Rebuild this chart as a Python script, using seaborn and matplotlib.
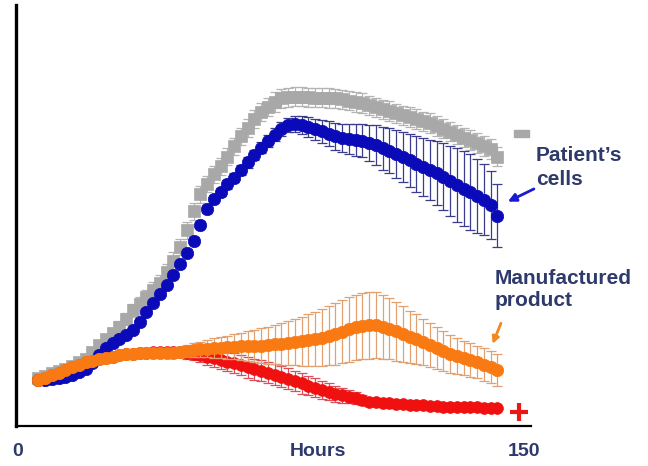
import matplotlib
matplotlib.use("Agg")
import matplotlib.pyplot as plt
import seaborn as sns
import pandas as pd
from matplotlib.patches import Rectangle

hours = [6, 8, 10, 12, 14, 16, 18, 20, 22, 24,
         26, 28, 30, 32, 34, 36, 38, 40, 42, 44,
         46, 48, 50, 52, 54, 56, 58, 60, 62, 64,
         66, 68, 70, 72, 74, 76, 78, 80, 82, 84,
         86, 88, 90, 92, 94, 96, 98, 100, 102, 104,
         106, 108, 110, 112, 114, 116, 118, 120, 122, 124,
         126, 128, 130, 132, 134, 136, 138, 140, 142]

gray_vals = [11.4, 11.9, 12.5, 13.0, 13.5, 14.3, 15.2, 16.0, 17.5, 19.2,
             20.6, 22.0, 23.6, 25.5, 27.5, 29.0, 30.6, 32.3, 34.0, 36.5,
             39.3, 42.5, 46.5, 51.0, 55.0, 57.5, 59.8, 61.7, 64.0, 66.4,
             68.8, 70.8, 72.9, 74.6, 75.8, 77.0, 77.8, 78.1, 78.2, 78.2,
             78.1, 78.0, 78.0, 77.9, 77.8, 77.6, 77.3, 77.0, 76.7, 76.2,
             75.7, 75.2, 74.8, 74.3, 73.8, 73.4, 72.9, 72.4, 72.0, 71.3,
             70.6, 69.9, 69.2, 68.5, 67.9, 67.2, 66.5, 65.8, 64.0]
gray_err = [0.5, 0.5, 0.5, 0.6, 0.6, 0.7, 0.7, 0.8, 0.9, 1.0,
            1.1, 1.2, 1.3, 1.4, 1.5, 1.6, 1.7, 1.8, 1.9, 2.0,
            2.0, 2.0, 2.0, 2.0, 2.0, 2.0, 2.0, 2.0, 2.0, 2.0,
            2.1, 2.1, 2.2, 2.2, 2.2, 2.3, 2.3, 2.3, 2.3, 2.3,
            2.3, 2.3, 2.3, 2.3, 2.3, 2.3, 2.3, 2.3, 2.3, 2.3,
            2.3, 2.3, 2.3, 2.3, 2.3, 2.3, 2.3, 2.3, 2.3, 2.3,
            2.3, 2.3, 2.3, 2.3, 2.3, 2.3, 2.3, 2.3, 2.3]

blue_vals = [10.9, 11.0, 11.1, 11.3, 11.6, 12.2, 12.9, 13.6, 15.0, 16.8,
             18.5, 19.6, 20.6, 21.7, 22.8, 24.8, 27.0, 29.2, 31.4, 33.5,
             35.8, 38.5, 41.2, 44.0, 47.8, 51.5, 54.0, 55.6, 57.4, 59.0,
             60.8, 62.6, 64.4, 66.1, 67.7, 69.2, 70.6, 71.5, 71.8, 71.5,
             71.0, 70.5, 70.0, 69.4, 68.8, 68.4, 68.2, 68.0, 67.8, 67.3,
             66.7, 66.0, 65.4, 64.7, 63.9, 63.1, 62.3, 61.5, 60.8, 60.0,
             59.2, 58.2, 57.3, 56.4, 55.5, 54.6, 53.8, 52.5, 50.0]
blue_err = [0.3, 0.3, 0.3, 0.3, 0.3, 0.3, 0.3, 0.3, 0.3, 0.3,
            0.4, 0.4, 0.4, 0.5, 0.5, 0.5, 0.5, 0.6, 0.6, 0.6,
            0.7, 0.7, 0.8, 0.8, 0.8, 0.9, 0.9, 1.0, 1.0, 1.1,
            1.1, 1.2, 1.2, 1.3, 1.4, 1.5, 1.6, 1.7, 1.9, 2.1,
            2.3, 2.5, 2.7, 3.0, 3.2, 3.4, 3.6, 3.8, 4.0, 4.3,
            4.8, 5.1, 5.4, 5.7, 6.0, 6.3, 6.6, 6.9, 7.2, 7.6,
            8.0, 8.4, 8.8, 9.0, 9.0, 8.8, 8.4, 8.0, 7.5]

orange_vals = [10.9, 11.5, 12.1, 12.7, 13.3, 13.9, 14.5, 15.1, 15.5, 15.9,
               16.2, 16.5, 16.8, 17.0, 17.2, 17.3, 17.3, 17.3, 17.3, 17.3,
               17.4, 17.6, 17.8, 18.0, 18.2, 18.4, 18.5, 18.6, 18.7, 18.8,
               18.9, 19.0, 19.0, 19.1, 19.2, 19.4, 19.5, 19.7, 19.9, 20.1,
               20.4, 20.7, 21.0, 21.4, 21.8, 22.4, 23.0, 23.4, 23.7, 23.9,
               24.0, 23.6, 23.1, 22.5, 21.9, 21.2, 20.6, 19.9, 19.2, 18.5,
               17.8, 17.2, 16.7, 16.2, 15.7, 15.2, 14.6, 14.0, 13.3]
orange_err = [0.3, 0.3, 0.3, 0.3, 0.3, 0.4, 0.4, 0.4, 0.4, 0.4,
              0.4, 0.5, 0.5, 0.5, 0.6, 0.6, 0.7, 0.7, 0.8, 0.9,
              1.0, 1.2, 1.4, 1.6, 1.8, 2.0, 2.3, 2.5, 2.7, 3.0,
              3.3, 3.6, 3.9, 4.1, 4.4, 4.7, 5.0, 5.2, 5.5, 5.8,
              6.1, 6.4, 6.7, 7.0, 7.3, 7.5, 7.7, 7.8, 7.9, 7.9,
              7.8, 7.6, 7.3, 7.0, 6.6, 6.2, 5.9, 5.5, 5.2, 4.9,
              4.7, 4.5, 4.3, 4.1, 4.0, 3.9, 3.9, 3.8, 3.8]

red_vals = [10.9, 11.5, 12.1, 12.7, 13.3, 13.9, 14.5, 15.1, 15.5, 15.9,
            16.2, 16.5, 16.8, 17.0, 17.2, 17.3, 17.4, 17.5, 17.6, 17.6,
            17.6, 17.5, 17.3, 17.1, 16.9, 16.5, 16.1, 15.7, 15.3, 14.9,
            14.4, 14.0, 13.5, 13.1, 12.7, 12.2, 11.7, 11.2, 10.7, 10.1,
            9.6, 9.1, 8.6, 8.1, 7.7, 7.3, 7.0, 6.6, 6.1, 5.7,
            5.6, 5.5, 5.4, 5.3, 5.2, 5.1, 5.0, 4.9, 4.8, 4.7,
            4.6, 4.5, 4.5, 4.4, 4.4, 4.4, 4.3, 4.3, 4.3]
red_err = [0.3, 0.3, 0.3, 0.3, 0.3, 0.3, 0.3, 0.3, 0.3, 0.3,
           0.4, 0.4, 0.5, 0.5, 0.6, 0.6, 0.7, 0.8, 0.9, 1.0,
           1.1, 1.2, 1.4, 1.5, 1.7, 1.9, 2.0, 2.1, 2.3, 2.4,
           2.4, 2.5, 2.5, 2.5, 2.5, 2.5, 2.5, 2.5, 2.4, 2.4,
           2.3, 2.2, 2.1, 2.0, 1.9, 1.8, 1.6, 1.4, 1.2, 1.0,
           0.8, 0.7, 0.6, 0.5, 0.4, 0.4, 0.3, 0.3, 0.3, 0.3,
           0.3, 0.3, 0.3, 0.3, 0.3, 0.3, 0.3, 0.3, 0.3]

x_tick_vals = [0, 150]
x_tick_labels = ["0", "150"]
x_label = "Hours"
label_patient = "Patient\u2019s\ncells"
label_manuf = "Manufactured\nproduct"

sns.set_style("white")
plt.rcParams['font.family'] = ['Liberation Sans', 'DejaVu Sans']

TEXT = "#2e3a6b"
fig = plt.figure(figsize=(6.48, 4.66), dpi=100)
ax = fig.add_axes([16 / 648, 40 / 466, (531 - 16) / 648, (461 - 40) / 466])

series = [
    ("gray", gray_vals, gray_err, "#a8a8a8", "#b4b4b4", "s", 64),
    ("blue", blue_vals, blue_err, "#0a0ab8", "#3c3c8c", "o", 80),
    ("red", red_vals, red_err, "#f01010", "#d8505c", "o", 72),
    ("orange", orange_vals, orange_err, "#f97a12", "#e2a070", "o", 80),
]

z = 2
for name, vals, errs, col, ecol, mk, sz in series:
    ax.errorbar(hours, vals, yerr=errs, fmt="none", ecolor=ecol, elinewidth=0.9,
                capsize=3.5, capthick=0.9, zorder=z)
    df = pd.DataFrame({"h": hours, "v": vals})
    sns.scatterplot(data=df, x="h", y="v", marker=mk, s=sz, color=col,
                    edgecolor=col, linewidth=0.5, ax=ax, zorder=z + 1, legend=False)
    z += 2

ax.set_xlim(-0.6, 152)
ax.set_ylim(0, 100)
ax.set_yticks([])
ax.set_xticks(x_tick_vals)
ax.set_xticklabels(x_tick_labels, fontsize=14, fontweight="bold", color=TEXT)
ax.tick_params(axis="x", length=0, pad=12)
ax.set_xlabel(x_label, fontsize=14, fontweight="bold", color=TEXT, labelpad=0)
ax.xaxis.set_label_coords(0.586, -0.04, transform=ax.transAxes)
ax.xaxis.label.set_va("top")
ax.set_ylabel("")

for s in ["top", "right"]:
    ax.spines[s].set_visible(False)
ax.spines["left"].set_linewidth(2.4)
ax.spines["bottom"].set_linewidth(1.6)
ax.spines["left"].set_color("black")
ax.spines["bottom"].set_color("black")

# annotations
ax.text(153.5, 66.5, label_patient, fontsize=15, fontweight="bold", color=TEXT,
        va="top", ha="left", linespacing=1.3, clip_on=False)
ax.annotate("", xy=(144.4, 53.0), xytext=(153.6, 56.6),
            arrowprops=dict(arrowstyle="-|>", color="#1a1ad0", lw=2, mutation_scale=12),
            annotation_clip=False)
ax.text(141.3, 37.2, label_manuf, fontsize=15, fontweight="bold", color=TEXT,
        va="top", ha="left", linespacing=1.2, clip_on=False)
ax.annotate("", xy=(140.3, 18.9), xytext=(143.4, 25.0),
            arrowprops=dict(arrowstyle="-|>", color="#f08a20", lw=2, mutation_scale=10),
            annotation_clip=False)
ax.add_patch(Rectangle((147.0, 68.6), 4.4, 1.7, color="#a8a8a8", clip_on=False, zorder=5))
ax.plot([148.4], [3.3], marker="+", markersize=13, mew=3, color="#e81818",
        clip_on=False, zorder=10)

fig.savefig("out.png", dpi=100)
